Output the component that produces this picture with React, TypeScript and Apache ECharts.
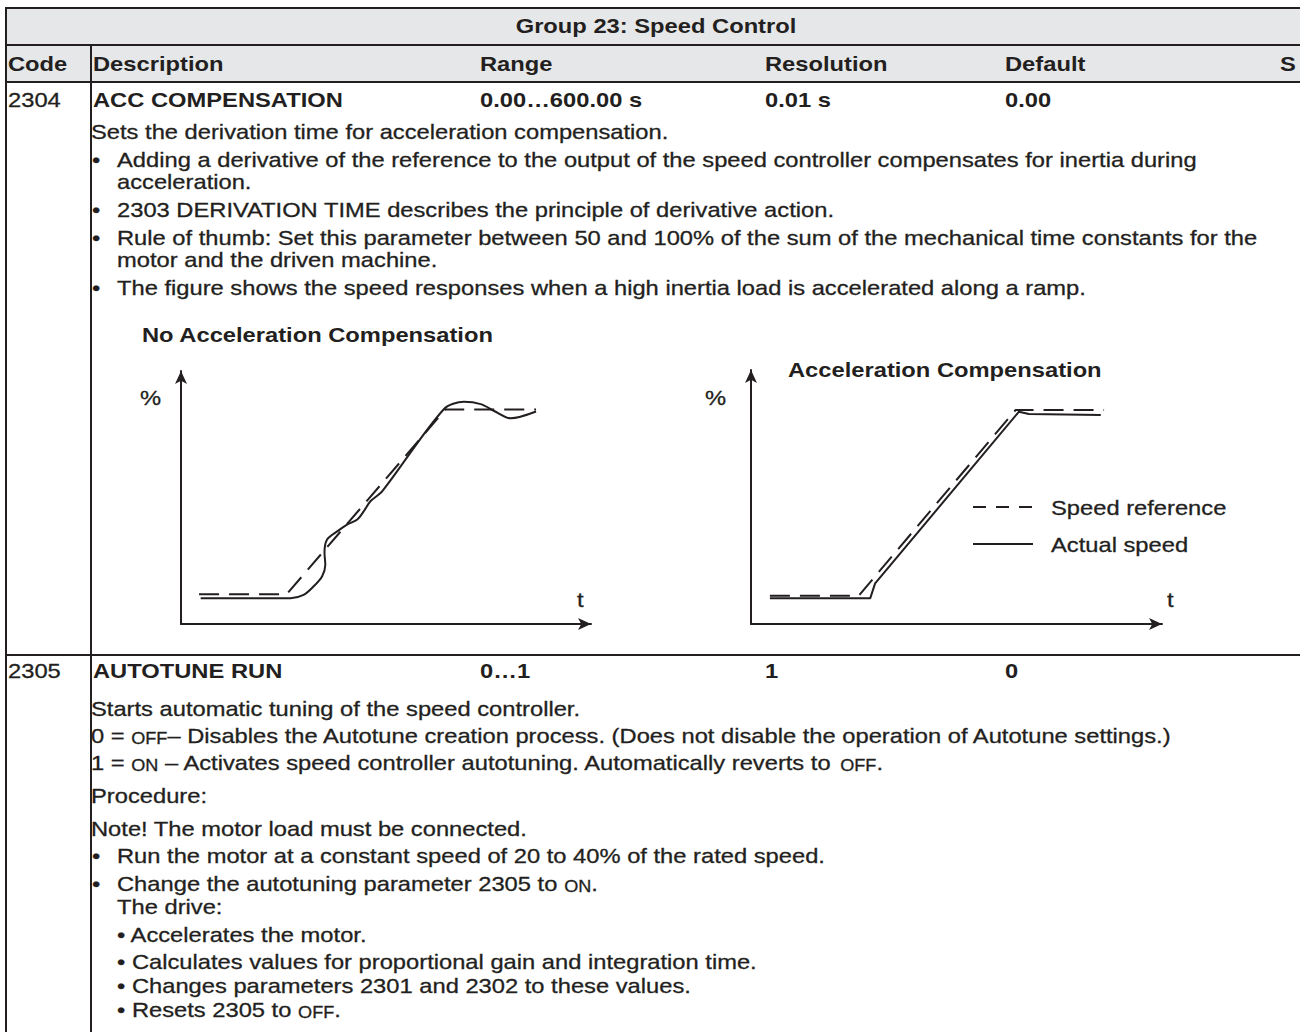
import React, { useEffect, useRef } from 'react';
import * as echarts from 'echarts';

const INK = '#231f20';
const HEAD_BG = '#e6e7e8';
const FONT = '"Liberation Sans", Arial, Helvetica, sans-serif';
const FS = 21;
const SX = 1.13;

// ---- table texts ----
const groupTitle = 'Group 23: Speed Control';
const columnHeads = ['Code', 'Description', 'Range', 'Resolution', 'Default', 'S'];
const row2304 = ['2304', 'ACC COMPENSATION', '0.00…600.00 s', '0.01 s', '0.00'];
const row2305 = ['2305', 'AUTOTUNE RUN', '0…1', '1', '0'];

// kind: p = paragraph, b = bullet, c = continuation, s = sub bullet
const desc2304: [string, string][] = [
  ['p', 'Sets the derivation time for acceleration compensation.'],
  ['b', 'Adding a derivative of the reference to the output of the speed controller compensates for inertia during'],
  ['c', 'acceleration.'],
  ['b', '2303 DERIVATION TIME describes the principle of derivative action.'],
  ['b', 'Rule of thumb: Set this parameter between 50 and 100% of the sum of the mechanical time constants for the'],
  ['c', 'motor and the driven machine.'],
  ['b', 'The figure shows the speed responses when a high inertia load is accelerated along a ramp.'],
];
const desc2305: [string, string][] = [
  ['p', 'Starts automatic tuning of the speed controller.'],
  ['p', '0 = {sc|OFF}– Disables the Autotune creation process. (Does not disable the operation of Autotune settings.)'],
  ['p', '1 = {sc|ON} – Activates speed controller autotuning. Automatically reverts to {sc|OFF}.'],
  ['p', 'Procedure:'],
  ['p', 'Note! The motor load must be connected.'],
  ['b', 'Run the motor at a constant speed of 20 to 40% of the rated speed.'],
  ['b', 'Change the autotuning parameter 2305 to {sc|ON}.'],
  ['c', 'The drive:'],
  ['s', '• Accelerates the motor.'],
  ['s', '• Calculates values for proportional gain and integration time.'],
  ['s', '• Changes parameters 2301 and 2302 to these values.'],
  ['s', '• Resets 2305 to {sc|OFF}.'],
];

// ---- chart texts ----
const leftTitle = 'No Acceleration Compensation';
const rightTitle = 'Acceleration Compensation';
const yName = '%';
const xName = 't';
const seriesNames = ['Speed reference', 'Actual speed'];

// ---- chart values: [time, percent] ----
const leftRef = [[4.4, 11.8], [25.8, 11.8], [64.5, 84.8], [86.6, 84.8]];
const leftAct = [
  [4.8, 10.2], [26.7, 10.2], [29.9, 11.5], [32.3, 14.8], [34.4, 18.8], [35.2, 23.4],
  [35.0, 28.1], [35.6, 33.3], [38.1, 36.6], [40.5, 39.3], [43.0, 41.3], [44.6, 44.6],
  [46.2, 48.5], [49.1, 52.5], [64.1, 84.9], [69.0, 87.8], [73.1, 86.9], [76.4, 84.2],
  [80.4, 81.3], [86.6, 84.0],
];
const rightRef = [[4.6, 11.1], [26.2, 11.1], [64.4, 84.3], [85.9, 84.3]];
const rightAct = [[4.6, 10.1], [29.0, 10.1], [30.2, 16.0], [65.2, 83.6], [67.6, 82.7], [85.1, 82.3]];

function txt(text: string, x: number, y: number, o: any = {}) {
  return {
    type: 'text',
    x,
    y,
    scaleX: o.sx ?? SX,
    z: 10,
    silent: true,
    style: {
      text,
      x: 0,
      y: 0,
      fill: INK,
      stroke: o.bold ? undefined : INK,
      lineWidth: o.bold ? 0 : 0.3,
      fontFamily: FONT,
      fontSize: o.size ?? FS,
      fontWeight: o.bold ? 'bold' : 'normal',
      align: o.align ?? 'left',
      verticalAlign: 'middle',
      rich: {
        sc: { fontSize: 16, fontFamily: FONT, fill: INK, stroke: INK, lineWidth: 0.3, verticalAlign: 'bottom' },
      },
    },
  };
}

function hline(x1: number, x2: number, y: number) {
  return { type: 'line', z: 5, silent: true, shape: { x1, y1: y, x2, y2: y }, style: { stroke: INK, lineWidth: 2 } };
}
function vline(x: number, y1: number, y2: number) {
  return { type: 'line', z: 5, silent: true, shape: { x1: x, y1, x2: x, y2 }, style: { stroke: INK, lineWidth: 2 } };
}

function descLines(lines: [string, string][], ys: number[]) {
  const out: any[] = [];
  lines.forEach(([kind, t], i) => {
    const y = ys[i];
    if (kind === 'p') out.push(txt(t, 91, y));
    else if (kind === 'b') {
      out.push(txt('•', 92, y));
      out.push(txt(t, 117, y));
    } else out.push(txt(t, 117, y));
  });
  return out;
}

function axis(gridIndex: number) {
  return {
    gridIndex,
    type: 'value',
    min: 0,
    max: 100,
    axisLine: {
      show: true,
      onZero: false,
      symbol: ['none', 'arrow'],
      symbolSize: [9, 13],
      lineStyle: { color: INK, width: 2 },
    },
    axisTick: { show: false },
    axisLabel: { show: false },
    splitLine: { show: false },
  };
}

export default function App() {
  const ref = useRef<HTMLDivElement>(null);
  useEffect(() => {
    if (!ref.current) return;
    const chart = echarts.init(ref.current, undefined, { renderer: 'svg' });

    const colX = [8, 93, 480, 765, 1005, 1280];
    const graphic: any[] = [];
    // header backgrounds
    graphic.push({ type: 'rect', z: 1, silent: true, shape: { x: 6, y: 8, width: 1294, height: 74 }, style: { fill: HEAD_BG } });
    // lines
    graphic.push(hline(5, 1300, 8));
    graphic.push(hline(5, 1300, 45));
    graphic.push(hline(5, 1300, 82));
    graphic.push(hline(5, 1300, 655));
    graphic.push(vline(6, 7, 1032));
    graphic.push(vline(91, 45, 1032));

    graphic.push(txt(groupTitle, 656, 26, { bold: true, align: 'center' }));
    columnHeads.forEach((h, i) => graphic.push(txt(h, colX[i], 64, { bold: true })));
    row2304.forEach((h, i) => graphic.push(txt(h, colX[i], 100, { bold: i > 0 })));
    row2305.forEach((h, i) => graphic.push(txt(h, colX[i], 671, { bold: i > 0 })));

    graphic.push(...descLines(desc2304, [132, 160, 182, 210, 238, 260, 288]));
    graphic.push(...descLines(desc2305, [709, 736, 763, 796, 829, 856, 884, 907, 935, 962, 986, 1010]));

    // chart labels
    graphic.push(txt(leftTitle, 142, 335, { bold: true }));
    graphic.push(txt(rightTitle, 788, 370, { bold: true }));
    graphic.push(txt(yName, 140, 398));
    graphic.push(txt(yName, 705, 398));
    graphic.push(txt(xName, 577, 600));
    graphic.push(txt(xName, 1167, 600));
    // legend
    graphic.push({ type: 'line', z: 5, silent: true, shape: { x1: 973, y1: 507, x2: 1033, y2: 507 }, style: { stroke: INK, lineWidth: 2, lineDash: [13, 10] } });
    graphic.push({ type: 'line', z: 5, silent: true, shape: { x1: 973, y1: 544, x2: 1033, y2: 544 }, style: { stroke: INK, lineWidth: 2 } });
    graphic.push(txt(seriesNames[0], 1051, 508));
    graphic.push(txt(seriesNames[1], 1051, 545));

    const lineSeries = (name: string, data: number[][], idx: number, dashed: boolean, smooth: number) => ({
      type: 'line',
      name,
      xAxisIndex: idx,
      yAxisIndex: idx,
      data,
      symbol: 'none',
      smooth,
      silent: true,
      lineStyle: { color: INK, width: 2, type: dashed ? [20, 10] : 'solid' },
      z: 3,
    });

    chart.setOption({
      animation: false,
      backgroundColor: '#ffffff',
      grid: [
        { left: 181, top: 371, width: 410, height: 253 },
        { left: 751, top: 370, width: 411, height: 254 },
      ],
      xAxis: [axis(0), axis(1)],
      yAxis: [axis(0), axis(1)],
      series: [
        lineSeries(seriesNames[0], leftRef, 0, true, 0),
        lineSeries(seriesNames[1], leftAct, 0, false, 0.3),
        lineSeries(seriesNames[0], rightRef, 1, true, 0),
        lineSeries(seriesNames[1], rightAct, 1, false, 0),
      ],
      graphic,
    });
    return () => chart.dispose();
  }, []);
  return (
    <div
      ref={ref}
      style={{ position: 'absolute', left: 0, top: 0, width: 1300, height: 1032, background: '#fff' }}
    />
  );
}
